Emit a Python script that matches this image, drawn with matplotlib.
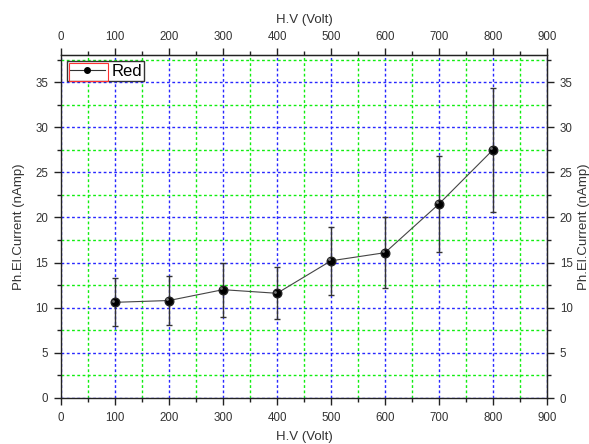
import matplotlib
matplotlib.use("Agg")
import matplotlib.pyplot as plt
from matplotlib.ticker import MultipleLocator
from matplotlib.lines import Line2D
from matplotlib.patches import Rectangle
from matplotlib.transforms import ScaledTranslation

plt.rcParams['font.family'] = ['Liberation Sans', 'DejaVu Sans']

# Photoelectron current vs. high voltage, red light
voltage = [100, 200, 300, 400, 500, 600, 700, 800]
current = [10.6, 10.8, 12.0, 11.6, 15.2, 16.1, 21.5, 27.5]
err_low = [2.6, 2.7, 3.0, 2.9, 3.8, 3.9, 5.3, 6.9]
err_high = [2.7, 2.7, 3.0, 2.9, 3.8, 4.0, 5.3, 6.8]

x_ticks = [0, 100, 200, 300, 400, 500, 600, 700, 800, 900]
y_ticks = [0, 5, 10, 15, 20, 25, 30, 35]

LABEL_COLOR = '#333333'
AXIS_COLOR = '#222222'

fig = plt.figure(figsize=(5.89, 4.44), dpi=100)
ax = fig.add_axes([61/589, 1 - 398/444, (547-61)/589, (398-55)/444])

ax.set_xlim(0, 900)
ax.set_ylim(0, 38)
ax.set_xticks(x_ticks)
ax.set_yticks(y_ticks)
ax.xaxis.set_minor_locator(MultipleLocator(50))
ax.yaxis.set_minor_locator(MultipleLocator(2.5))

ax.grid(which='major', color='#2828ff', linestyle=(0, (2.0, 1.8)),
        linewidth=1.0)
ax.grid(which='minor', color='#10ee10', linestyle=(0, (2.0, 1.8)),
        linewidth=1.0)
ax.set_axisbelow(True)

ax.errorbar(voltage, current, yerr=[err_low, err_high], fmt='none',
            ecolor='#333333', elinewidth=1.0, capsize=2.4, capthick=1.0, zorder=3)
ax.plot(voltage, current, color='#444444', linewidth=0.8, zorder=4)
ax.plot(voltage, current, linestyle='none', marker='o', markersize=6.2,
        markerfacecolor='black', markeredgecolor='#222222', zorder=5)
# small highlight on each ball marker
ax.plot(voltage, current, linestyle='none', marker='o', markersize=2.0,
        markerfacecolor='#777777', markeredgewidth=0, zorder=6,
        transform=ax.transData + ScaledTranslation(-1.2/72, 1.2/72,
                                                   fig.dpi_scale_trans))

for s in ax.spines.values():
    s.set_color(AXIS_COLOR)
    s.set_linewidth(1.0)

# bottom / left axes
ax.tick_params(which='both', direction='out', colors=AXIS_COLOR,
               top=False, right=False, labelsize=8.3, labelcolor=LABEL_COLOR)
ax.tick_params(which='major', length=5, width=1)
ax.tick_params(which='minor', length=3, width=1)
ax.tick_params(axis='x', which='major', pad=5)
ax.tick_params(axis='y', which='major', pad=4.3)

ax.set_xlabel('H.V (Volt)', fontsize=9.5, color=LABEL_COLOR, labelpad=5)
ax.set_ylabel('Ph.El.Current (nAmp)', fontsize=9.5, color=LABEL_COLOR, labelpad=7)

# top / right mirrored axes
top = ax.secondary_xaxis('top')
top.set_xticks(x_ticks)
top.xaxis.set_minor_locator(MultipleLocator(50))
top.tick_params(which='both', direction='out', colors=AXIS_COLOR,
                labelsize=8.3, labelcolor=LABEL_COLOR)
top.tick_params(which='major', length=5, width=1, pad=3.5)
top.tick_params(which='minor', length=3, width=1)
top.set_xlabel('H.V (Volt)', fontsize=9.5, color=LABEL_COLOR, labelpad=6)
top.spines['top'].set_color(AXIS_COLOR)

right = ax.secondary_yaxis('right')
right.set_yticks(y_ticks)
right.yaxis.set_minor_locator(MultipleLocator(2.5))
right.tick_params(which='both', direction='out', colors=AXIS_COLOR,
                  labelsize=8.3, labelcolor=LABEL_COLOR)
right.tick_params(which='major', length=5, width=1, pad=4.3)
right.tick_params(which='minor', length=3, width=1)
right.set_ylabel('Ph.El.Current (nAmp)', fontsize=9.5, color=LABEL_COLOR,
                 labelpad=3.5)
right.spines['right'].set_color(AXIS_COLOR)

handle = Line2D([], [], color='#333333', linewidth=0.8, marker='o',
                markersize=4, markerfacecolor='black', markeredgecolor='black')
leg = ax.legend([handle], ['Red'], loc='upper left',
                bbox_to_anchor=(6/486, 1 - 6/343),
                frameon=True, fancybox=False, edgecolor='#333333',
                framealpha=1, fontsize=12, handlelength=2.1,
                borderpad=0.15, handletextpad=0.4, borderaxespad=0.0)
leg.get_frame().set_linewidth(1.0)

# red outline around the legend's line sample
ax.add_patch(Rectangle((69/589, 1 - 81/444), (108-69)/589, (81-63)/444,
                       transform=fig.transFigure, fill=False,
                       edgecolor='#ff3030', linewidth=0.8, zorder=10,
                       clip_on=False))

fig.savefig('out.png', dpi=100)
